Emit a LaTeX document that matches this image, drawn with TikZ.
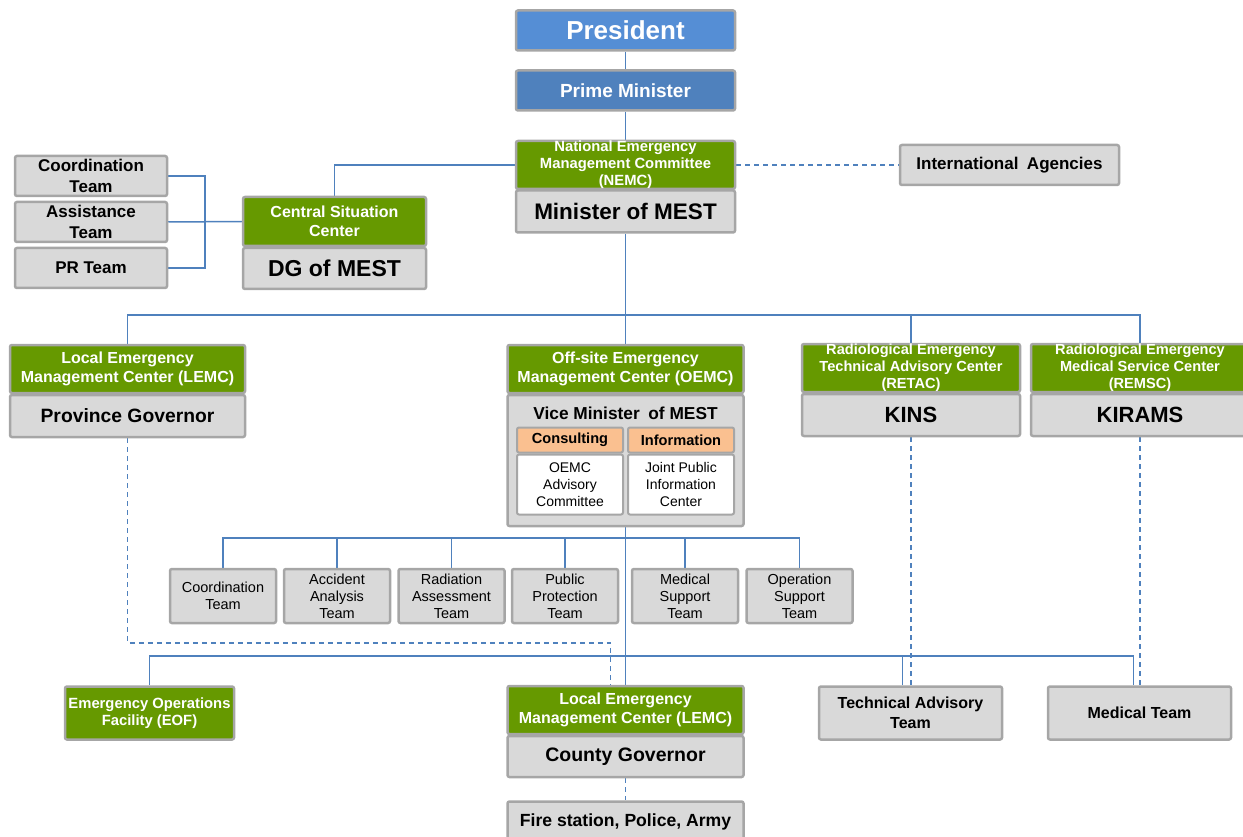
\documentclass[tikz,border=0pt]{standalone}
\usepackage{fontspec}
\setmainfont{Liberation Sans}
\usetikzlibrary{backgrounds}
\definecolor{pblue}{HTML}{558ED5}
\definecolor{pmblue}{HTML}{4F81BD}
\definecolor{bgreen}{HTML}{669900}
\definecolor{bgray}{HTML}{D9D9D9}
\definecolor{bord}{HTML}{A6A6A6}
\definecolor{lblue}{HTML}{4F81BD}
\definecolor{borange}{HTML}{FAC090}
\newcommand{\fs}[2]{\fontsize{#1}{#2}\selectfont}
\tikzset{
  box/.style={draw=bord, line width=2.5pt, rounded corners=2pt, fill=bgray, inner sep=0pt, align=center, text=black},
  gbox/.style={box, fill=bgreen, text=white},
  wh/.style 2 args={minimum width=#1pt, minimum height=#2pt},
  conn/.style={draw=lblue, line width=1.5pt},
  dconn/.style={conn, dash pattern=on 5pt off 4pt}
}
\begin{document}
\begin{tikzpicture}[x=1pt,y=-1pt]
\useasboundingbox (0,0) rectangle (1243,837);
% top chain
\node[box, fill=pblue, text=white, wh={219}{40}, font=\fs{26}{29}\bfseries] (pres) at (625.5,30.5) {President};
\node[box, fill=pmblue, text=white, wh={219}{40}, font=\fs{19}{22}\bfseries] (pm) at (625.5,90.5) {Prime Minister};
\node[gbox, wh={219}{48}, font=\fs{14.8}{17}\bfseries] (nemc) at (625.5,165) {National Emergency\\Management Committee\\(NEMC)};
\node[box, wh={219}{42}, font=\fs{22.5}{25}\bfseries] (min) at (625.5,211.5) {Minister of MEST};
\node[box, wh={219}{40}, font=\fs{17}{20}\bfseries] (intl) at (1009.5,165) {International\enspace Agencies};
% left group
\node[box, wh={152}{40}, font=\fs{17}{21}\bfseries] (coord) at (91,176) {Coordination\\Team};
\node[box, wh={152}{40}, font=\fs{17}{21}\bfseries] (assist) at (91,222) {Assistance\\Team};
\node[box, wh={152}{40}, font=\fs{17}{21}\bfseries] (pr) at (91,268) {PR Team};
\node[gbox, wh={183}{49}, font=\fs{16}{19}\bfseries] (csc) at (334.5,221.5) {Central Situation\\Center};
\node[box, wh={183}{41}, font=\fs{23}{26}\bfseries] (dg) at (334.5,268.5) {DG of MEST};
% second level
\node[gbox, wh={235}{48}, font=\fs{16}{19}\bfseries] (lemc) at (127.5,369) {Local Emergency\\Management Center (LEMC)};
\node[box, wh={235}{42}, font=\fs{19.3}{22}\bfseries] (prov) at (127.5,416) {Province Governor};
\node[gbox, wh={236}{48}, font=\fs{16}{19}\bfseries] (oemc) at (625.5,369) {Off-site Emergency\\Management Center (OEMC)};
\node[box, wh={236}{131}] (vice) at (625.5,460.5) {};
\node[font=\fs{17.3}{20}\bfseries] (vicet) at (625.5,413) {Vice Minister\enspace of MEST};
\node[box, fill=borange, line width=2pt, wh={106}{25}, font=\fs{14.6}{16}\bfseries] (cons) at (570,440) {Consulting};
\node[box, fill=borange, line width=2pt, wh={106}{25}, font=\fs{14.6}{16}\bfseries] (info) at (681,440) {Information};
\node[box, fill=white, line width=2pt, wh={106}{60}, font=\fs{14}{17}] (adv) at (570,484.5) {OEMC\\Advisory\\Committee};
\node[box, fill=white, line width=2pt, wh={106}{60}, font=\fs{14}{17}] (jpic) at (681,484.5) {Joint Public\\Information\\Center};
\node[gbox, wh={218}{48}, font=\fs{14.6}{17}\bfseries] (retac) at (911,368) {Radiological Emergency\\Technical Advisory Center\\(RETAC)};
\node[box, wh={218}{42}, font=\fs{22}{25}\bfseries] (kins) at (911,415) {KINS};
\node[gbox, wh={218}{48}, font=\fs{14.6}{17}\bfseries] (remsc) at (1140,368) {Radiological Emergency\\Medical Service Center\\(REMSC)};
\node[box, wh={218}{42}, font=\fs{22}{25}\bfseries] (kirams) at (1140,415) {KIRAMS};
% teams
\node[box, wh={106}{54}, font=\fs{14.5}{17}] (t1) at (223,596) {Coordination\\Team};
\node[box, wh={106}{54}, font=\fs{14.5}{17}] (t2) at (337,596) {Accident\\Analysis\\Team};
\node[box, wh={106}{54}, font=\fs{14.5}{17}] (t3) at (451.5,596) {Radiation\\Assessment\\Team};
\node[box, wh={106}{54}, font=\fs{14.5}{17}] (t4) at (565,596) {Public\\Protection\\Team};
\node[box, wh={106}{54}, font=\fs{14.5}{17}] (t5) at (685,596) {Medical\\Support\\Team};
\node[box, wh={106}{54}, font=\fs{14.5}{17}] (t6) at (799.5,596) {Operation\\Support\\Team};
% bottom level
\node[gbox, wh={169}{53}, font=\fs{14.8}{17}\bfseries] (eof) at (149.5,713) {Emergency Operations\\Facility (EOF)};
\node[gbox, wh={236}{48}, font=\fs{16}{19}\bfseries] (clemc) at (625.5,710) {Local Emergency\\Management Center (LEMC)};
\node[box, wh={236}{41}, font=\fs{19.5}{22}\bfseries] (cgov) at (625.5,756.5) {County Governor};
\node[box, wh={183}{53}, font=\fs{16}{20}\bfseries] (tech) at (910.5,713) {Technical Advisory\\Team};
\node[box, wh={183}{53}, font=\fs{16}{20}\bfseries] (medt) at (1139.5,713) {Medical Team};
\node[box, wh={236}{40}, font=\fs{17.6}{20}\bfseries] (fire) at (625.5,821.5) {Fire station, Police, Army};
% helper coordinates
\coordinate (b1) at (0,315);
\coordinate (b2) at (0,538);
\coordinate (b3) at (0,656);
\coordinate (b4) at (0,643);
\coordinate (xl) at (205,0);
\begin{scope}[on background layer]
% top chain
\draw[conn] (pres.south) -- (pm.north);
\draw[conn] (pm.south) -- (nemc.north);
\draw[dconn] (nemc.east) -- (intl.west);
\draw[conn] (csc.north) |- (nemc.west);
% left group
\draw[conn] (coord.east) -| (xl |- pr.east) -- (pr.east);
\draw[conn] (assist.east) -- (csc.west);
% first bus
\draw[conn] (min.south) -- (oemc.north);
\draw[conn] (lemc.north) |- (remsc.north |- b1) -- (remsc.north);
\draw[conn] (retac.north) -- (retac.north |- b1);
% teams bus
\draw[conn] (t1.north) |- (t6.north |- b2) -- (t6.north);
\draw[conn] (t2.north) -- (t2.north |- b2);
\draw[conn] (t3.north) -- (t3.north |- b2);
\draw[conn] (t4.north) -- (t4.north |- b2);
\draw[conn] (t5.north) -- (t5.north |- b2);
\draw[conn] (vice.south) -- (clemc.north);
% bottom bus
\draw[conn] (eof.north) |- ([xshift=-6pt]medt.north |- b3) -- ([xshift=-6pt]medt.north);
\draw[conn] ([xshift=-8pt]tech.north) -- ([xshift=-8pt]tech.north |- b3);
% dashed links
\draw[dconn] (prov.south) |- ([xshift=-15pt]clemc.north |- b4) -- ([xshift=-15pt]clemc.north);
\draw[dconn] (kins.south) -- (kins.south |- tech.north);
\draw[dconn] (kirams.south) -- (kirams.south |- medt.north);
\draw[dconn] (cgov.south) -- (fire.north);
\end{scope}
\end{tikzpicture}
\end{document}
